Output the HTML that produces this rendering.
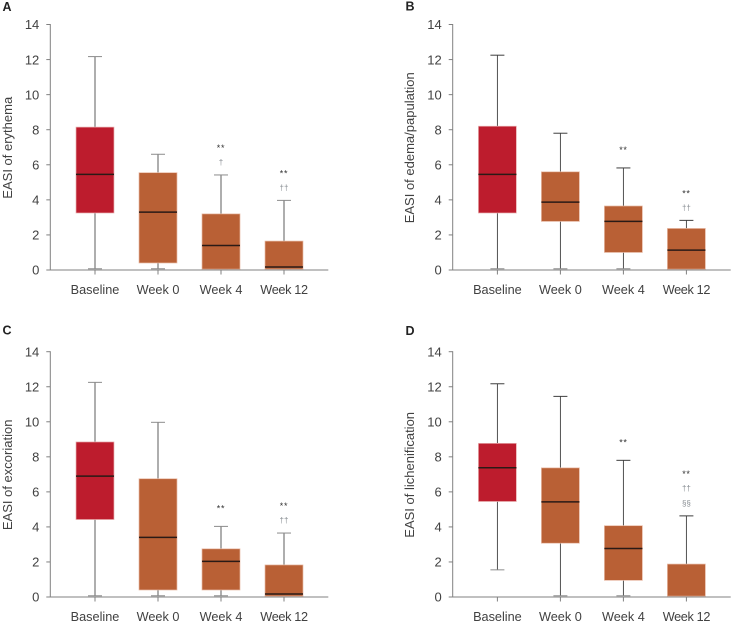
<!DOCTYPE html>
<html lang="en">
<head>
<meta charset="utf-8">
<title>EASI box plots</title>
<style>
html,body{margin:0;padding:0;background:#fff;width:732px;height:622px;overflow:hidden}
svg{display:block;font-family:"Liberation Sans",sans-serif}
</style>
</head>
<body>
<svg id="chart" width="732" height="622" viewBox="0 0 732 622" xmlns="http://www.w3.org/2000/svg"></svg>
<script>
const categories = ['Baseline', 'Week 0', 'Week 4', 'Week 12'];
const yTicks = [0, 2, 4, 6, 8, 10, 12, 14];

const erythemaHigh = [12.17, 6.6, 5.42, 3.97];
const erythemaQ3 = [8.15, 5.55, 3.2, 1.65];
const erythemaMedian = [5.45, 3.3, 1.4, 0.17];
const erythemaQ1 = [3.25, 0.4, 0.05, 0.05];
const erythemaLow = [0.07, 0.07, 0.05, 0.05];
const erythemaMarks = [[], [], ['**', '†'], ['**', '††']];

const edemaHigh = [12.25, 7.8, 5.82, 2.83];
const edemaQ3 = [8.2, 5.6, 3.65, 2.37];
const edemaMedian = [5.45, 3.87, 2.77, 1.13];
const edemaQ1 = [3.25, 2.77, 1.0, 0.05];
const edemaLow = [0.07, 0.07, 0.07, 0.05];
const edemaMarks = [[], [], ['**'], ['**', '††']];

const excoriationHigh = [12.25, 9.97, 4.03, 3.65];
const excoriationQ3 = [8.85, 6.75, 2.75, 1.83];
const excoriationMedian = [6.9, 3.4, 2.03, 0.17];
const excoriationQ1 = [4.42, 0.4, 0.4, 0.05];
const excoriationLow = [0.07, 0.07, 0.07, 0.05];
const excoriationMarks = [[], [], ['**'], ['**', '††']];

const lichenHigh = [12.17, 11.45, 7.8, 4.63];
const lichenQ3 = [8.77, 7.37, 4.07, 1.88];
const lichenMedian = [7.38, 5.43, 2.77, 0.05];
const lichenQ1 = [5.45, 3.07, 0.95, 0.05];
const lichenLow = [1.55, 0.07, 0.07, 0.05];
const lichenMarks = [[], [], ['**'], ['**', '††', '§§']];

const panels = [
  {key: 'a', letter: 'A', title: 'EASI of erythema', x0: 50.3, y0: 270, top: 24.5, lx: 2.5, ly: 11, tx: 12, whisker: '#8c8c8c', ww: 1.4,
   hi: erythemaHigh, q3: erythemaQ3, med: erythemaMedian, q1: erythemaQ1, lo: erythemaLow, marks: erythemaMarks},
  {key: 'b', letter: 'B', title: 'EASI of edema/papulation', x0: 452.7, y0: 270, top: 24.5, lx: 405.5, ly: 10.5, tx: 414, whisker: '#3e3e3e', ww: 0.9,
   hi: edemaHigh, q3: edemaQ3, med: edemaMedian, q1: edemaQ1, lo: edemaLow, marks: edemaMarks},
  {key: 'c', letter: 'C', title: 'EASI of excoriation', x0: 50.3, y0: 597, top: 351.7, lx: 2.5, ly: 334.5, tx: 12, whisker: '#8c8c8c', ww: 1.4,
   hi: excoriationHigh, q3: excoriationQ3, med: excoriationMedian, q1: excoriationQ1, lo: excoriationLow, marks: excoriationMarks},
  {key: 'd', letter: 'D', title: 'EASI of lichenification', x0: 452.7, y0: 597, top: 351.7, lx: 405.5, ly: 335, tx: 414, whisker: '#3e3e3e', ww: 0.9,
   hi: lichenHigh, q3: lichenQ3, med: lichenMedian, q1: lichenQ1, lo: lichenLow, marks: lichenMarks}
];

const NS = 'http://www.w3.org/2000/svg';
const root = document.getElementById('chart');

function make(parent, tag, attrs, text) {
  const el = document.createElementNS(NS, tag);
  for (const k in attrs) el.setAttribute(k, attrs[k]);
  if (text !== undefined) el.textContent = text;
  parent.appendChild(el);
  return el;
}

panels.forEach(function (p) {
  const yScale = function (v) { return p.y0 - (v / 14) * (p.y0 - p.top); };
  const xScale = function (i) { return p.x0 + 44.7 + 63 * i; };
  const axisColor = '#808080';
  const textColor = '#414141';

  const g = make(root, 'g', {});
  
  

  const letter = make(g, 'text', {x: p.lx, y: p.ly, 'font-size': 12.5, 'font-weight': 'bold', fill: '#222'}, p.letter);
  
  

  const title = make(g, 'text', {
    transform: 'translate(' + p.tx + ',' + ((p.y0 + p.top) / 2 + 0.5) + ') rotate(-90)',
    'text-anchor': 'middle', 'font-size': 13, fill: textColor
  }, p.title);
  
  

  categories.forEach(function (name, i) {
    const cx = xScale(i);
    const box = make(g, 'g', {});
    
    

    make(box, 'line', {x1: cx, x2: cx, y1: yScale(p.hi[i]), y2: yScale(p.lo[i]), stroke: p.whisker, 'stroke-width': p.ww});
    make(box, 'line', {x1: cx - 7, x2: cx + 7, y1: yScale(p.hi[i]), y2: yScale(p.hi[i]), stroke: p.whisker, 'stroke-width': 1});
    make(box, 'line', {x1: cx - 7, x2: cx + 7, y1: yScale(p.lo[i]), y2: yScale(p.lo[i]), stroke: '#8c8c8c', 'stroke-width': 1});

    const top = yScale(p.q3[i]);
    const bottom = yScale(p.q1[i]);
    make(box, 'rect', {
      x: cx - 19, y: top, width: 38, height: bottom - top,
      fill: i === 0 ? '#bd1c2d' : '#b96035',
      stroke: i === 0 ? '#e9b4b4' : '#e8bba6', 'stroke-width': 0.7
    });
    if (p.med[i] > p.q1[i]) {
      make(box, 'line', {x1: cx - 19, x2: cx + 19, y1: yScale(p.med[i]), y2: yScale(p.med[i]), stroke: '#2a1a16', 'stroke-width': 1.5});
    }

    let markY = yScale(p.hi[i]) - (p.marks[i].length === 1 ? 19 : 13);
    p.marks[i].slice().reverse().forEach(function (m) {
      const star = m === '**';
      const mark = make(g, 'text', {
        x: cx, y: markY + (star ? 4 : 3),
        'text-anchor': 'middle', 'font-size': star ? 9 : 8,
        'letter-spacing': star ? 0.7 : 0,
        fill: star ? '#333' : '#8a8f94'
      }, m);
      
      
      markY -= 15;
    });
  });

  const yAxis = make(g, 'g', {});
  
  
  make(yAxis, 'line', {x1: p.x0, x2: p.x0, y1: p.top - 0.5, y2: p.y0 + 0.5, stroke: axisColor, 'stroke-width': 1});
  yTicks.forEach(function (t) {
    make(yAxis, 'line', {x1: p.x0 - 4, x2: p.x0, y1: yScale(t), y2: yScale(t), stroke: axisColor, 'stroke-width': 1});
    make(yAxis, 'text', {x: p.x0 - 11, y: yScale(t) + 4.7, 'text-anchor': 'end', 'font-size': 13, fill: textColor}, t);
  });

  const xAxis = make(g, 'g', {});
  
  
  make(xAxis, 'line', {x1: p.x0, x2: p.x0 + 278, y1: p.y0, y2: p.y0, stroke: axisColor, 'stroke-width': 1});
  categories.forEach(function (name, i) {
    make(xAxis, 'line', {x1: xScale(i), x2: xScale(i), y1: p.y0, y2: p.y0 + 4.5, stroke: axisColor, 'stroke-width': 1});
    make(xAxis, 'text', {
      x: xScale(i), y: p.y0 + 24, 'text-anchor': 'middle', 'font-size': 12.7, fill: textColor,
      'letter-spacing': /\d\d/.test(name) ? -0.35 : 0
    }, name);
  });
});
</script>
</body>
</html>
